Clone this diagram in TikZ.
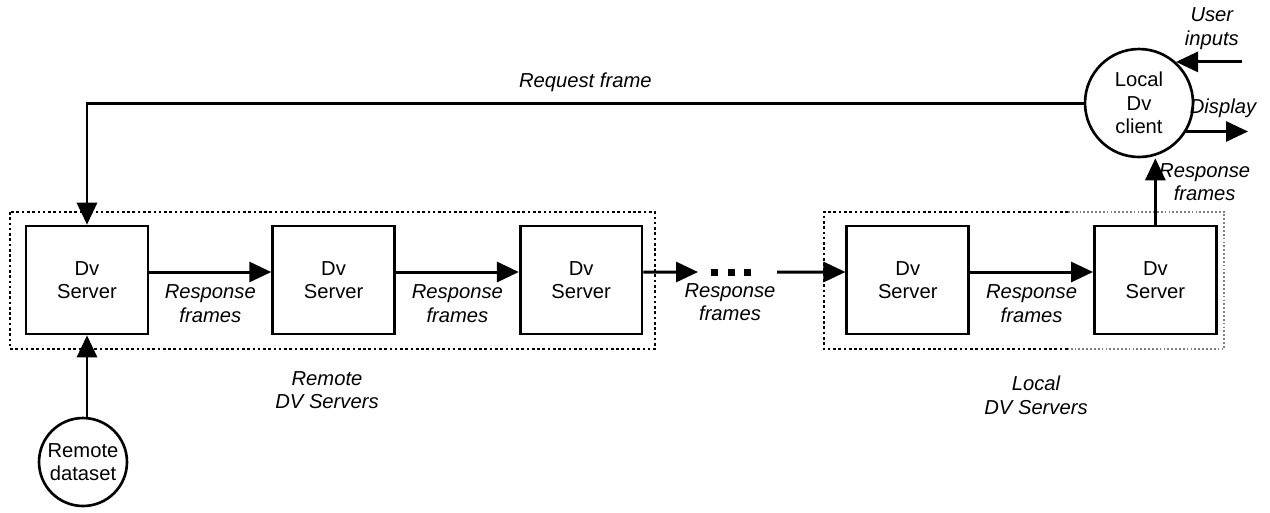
\documentclass[tikz,border=0pt]{standalone}
\usepackage{fontspec}
\setmainfont{Liberation Sans}
\usetikzlibrary{arrows.meta, positioning, shapes.geometric}

\begin{document}
\begin{tikzpicture}[x=0.02cm, y=-0.02cm, >={Triangle[length=0.44cm, width=0.4cm]},
    font=\fontsize{11.5}{13.5}\selectfont,
    server/.style={draw, line width=1.5pt, minimum width=2.44cm, minimum height=2.16cm, inner sep=0pt, align=center},
    flow/.style={->, line width=1.7pt},
    group/.style={line width=1.5pt, dash pattern=on 1.5pt off 1.5pt},
    lbl/.style={font=\fontsize{11.5}{13.5}\selectfont\itshape, align=center}]
        \useasboundingbox (0,0) rectangle (1270,512);

        % Server chain
        \node[server] (srv1) at (87,280) {Dv\\Server};
        \node[server, right=2.44cm of srv1] (srv2) {Dv\\Server};
        \node[server, right=2.46cm of srv2] (srv3) {Dv\\Server};
        \node[server, right=4.04cm of srv3] (srv4) {Dv\\Server};
        \node[server, right=2.46cm of srv4] (srv5) {Dv\\Server};

        % Groups
        \draw[group] (10,212) rectangle (655,349);
        \draw[group] (1068,212) -- (824,212) -- (824,349) -- (1068,349);
        \draw[group, line width=0.7pt, gray, dash pattern=on 1pt off 1.2pt] (1068,212) -- (1224,212) -- (1224,349) -- (1068,349);
        \node[lbl] (remote) at (327,390) {Remote\\DV Servers};
        \node[lbl] (local) at (1036,395) {Local\\DV Servers};

        % Client and data source
        \node[circle, draw, line width=1.5pt, minimum size=2.16cm, inner sep=0pt, align=center] (client) at (1139,103) {Local\\Dv\\client};
        \node[circle, draw, line width=1.5pt, minimum size=1.76cm, inner sep=0pt, align=center] (dataset) at (83,462) {Remote\\dataset};

        % Response frames
        \draw[flow] ([yshift=0.16cm]srv1.east) -- node[lbl, below=3pt] {Response\\frames} ([yshift=0.16cm]srv2.west);
        \draw[flow] ([yshift=0.16cm]srv2.east) -- node[lbl, below=3pt] {Response\\frames} ([yshift=0.16cm]srv3.west);
        \coordinate (gapA) at (698,272);
        \coordinate (gapB) at (777,272);
        \draw[flow] ([yshift=0.16cm]srv3.east) -- (gapA);
        \draw[line width=0.14cm, dash pattern=on 0.14cm off 0.19cm] (711,272) -- (752,272);
        \draw[flow] (gapB) -- ([yshift=0.16cm]srv4.west);
        \node[lbl] (gaplbl) at (730,302) {Response\\frames};
        \draw[flow] ([yshift=0.16cm]srv4.east) -- node[lbl, below=3pt] {Response\\frames} ([yshift=0.16cm]srv5.west);
        \draw[flow] (srv5.north) -- node[lbl, right=-2pt, pos=0.64] {Response\\frames} (srv5.north |- client.south);

        % Request path
        \draw[flow] (client.west) -| node[lbl, pos=0.25, above=2.5pt] {Request frame} (srv1.north);
        \draw[flow] (dataset.north -| srv1) -- (srv1.south);

        % User side
        \coordinate (rightedge) at (1242,0);
        \coordinate (uin) at (client.48 -| rightedge);
        \draw[flow] (uin) -- (client.48);
        \node[lbl, anchor=south east] at (1245,56) {User\\inputs};
        \coordinate (dispend) at (1248,0);
        \draw[flow] (client.-31) -- (client.-31 -| dispend);
        \node[lbl] at (1223,108) {Display};
    \end{tikzpicture}
\end{document}
